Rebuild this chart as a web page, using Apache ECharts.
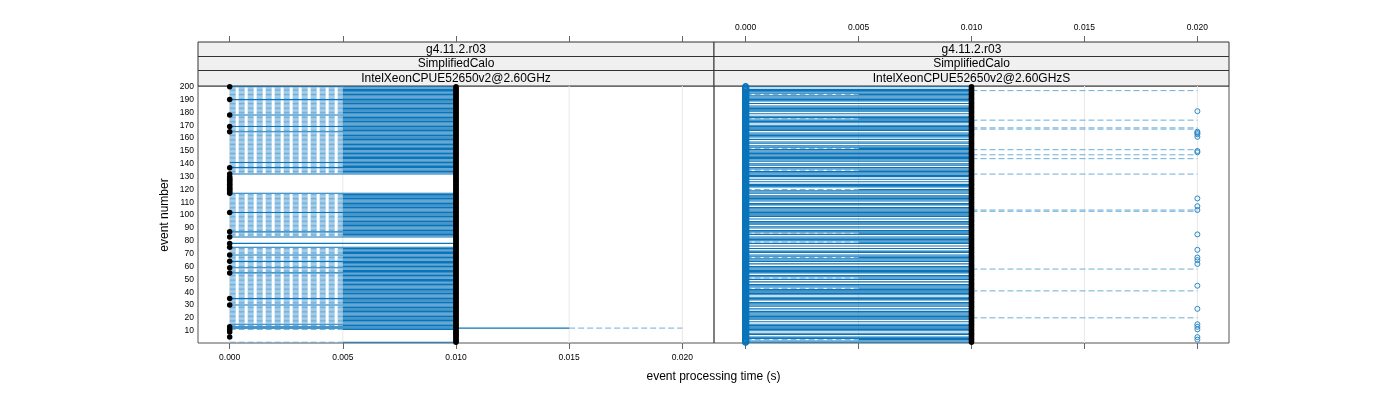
<!DOCTYPE html>
<html><head><meta charset="utf-8">
<script src="https://cdn.jsdelivr.net/npm/echarts@6/dist/echarts.min.js"></script>
<style>html,body{margin:0;padding:0;background:#fff}#c{width:1400px;height:400px}</style>
</head><body><div id="c"></div>
<script>
// ---------- axes / labels ----------
const firstEvent = 1, lastEvent = 200;
const xTicks = [0, 0.005, 0.01, 0.015, 0.02];
const yTicks = [10, 20, 30, 40, 50, 60, 70, 80, 90, 100, 110, 120, 130, 140, 150, 160, 170, 180, 190, 200];
const stripLeft = ['g4.11.2.r03', 'SimplifiedCalo', 'IntelXeonCPUE52650v2@2.60GHz'];
const stripRight = ['g4.11.2.r03', 'SimplifiedCalo', 'IntelXeonCPUE52650v2@2.60GHzS'];
const xTitle = 'event processing time (s)';
const yTitle = 'event number';

// ---------- left panel (…2.60GHz) ----------
// box summaries per event: [lower whisker, lower hinge, upper hinge, upper whisker]
const leftTypicalBox = [0, 0.005, 0.01, 0.01];
const leftFullBox = [0, 0, 0.01, 0.01];
const leftLongBox = [0, 0, 0.015, 0.02];
const leftFullRows = [200, 190, 178, 169, 165, 141, 137, 132, 117, 102, 87, 83, 78, 75, 69, 64, 59, 55, 35, 30, 15, 13];
const leftLongRows = [12];
const leftBlankRows = [131, 130, 129, 128, 127, 126, 125, 124, 123, 122, 121, 120, 119, 118, 82, 81, 80, 79, 77, 76, 10, 9, 8, 7, 6, 5, 4, 3, 2];
const leftMedian = 0.01;
const leftZeroDots = [200, 190, 178, 169, 165, 137, 132, 130, 129, 128, 127, 126, 125, 124, 123, 122, 121, 120, 119, 118, 117, 102, 87, 83, 78, 75, 69, 64, 59, 55, 35, 30, 13, 11, 9, 5];

// ---------- right panel (…2.60GHzS) ----------
const rightTypicalBox = [0, 0, 0.01, 0.01];
const rightDashedBox = [0, 0.005, 0.01, 0.01];
const rightUpperWhisker = 0.02;
const rightDashedRows = [194, 175, 152, 135, 120, 86, 79, 67, 51, 43, 3];
const rightUpperRows = [197, 174, 168, 167, 151, 147, 144, 132, 104, 103, 58, 41, 20];
const rightBlankRows = [199, 188, 186, 180, 178, 171, 165, 160, 158, 155, 141, 138, 129, 127, 125, 121, 116, 110, 107, 98, 96, 92, 89, 84, 77, 75, 73, 70, 63, 61, 54, 49, 47, 37, 33, 28, 26, 18, 16, 9, 6];
const rightMedian = 0.01;
const rightLowOutlier = 0;
const rightHighOutlier = 0.02;
const rightHighOutlierRows = [181, 165, 164, 163, 161, 150, 149, 113, 107, 104, 85, 73, 67, 65, 62, 45, 27, 15, 13, 11, 5, 3];

// ---------- build series data ----------
const events = [];
for (let e = firstEvent; e <= lastEvent; e++) events.push(e);

const leftBoxes = [], rightBoxes = [];
events.forEach(e => {
  if (!leftBlankRows.includes(e)) {
    let b = leftTypicalBox;
    if (leftFullRows.includes(e)) b = leftFullBox;
    if (leftLongRows.includes(e)) b = leftLongBox;
    leftBoxes.push([e, ...b]);
  }
  let r = null;
  if (!rightBlankRows.includes(e)) {
    r = rightDashedRows.includes(e) ? rightDashedBox.slice() : rightTypicalBox.slice();
  }
  if (rightUpperRows.includes(e)) {
    if (!r) r = [0.01, 0.01, 0.01, 0.01];
    r[3] = rightUpperWhisker;
  }
  if (r) rightBoxes.push([e, ...r]);
});
const leftDots = events.map(e => [leftMedian, e]).concat(leftZeroDots.map(e => [0, e]));
const rightDots = events.map(e => [rightMedian, e]);
const rightLowCircles = events.map(e => [rightLowOutlier, e]);
const rightHighCircles = rightHighOutlierRows.map(e => [rightHighOutlier, e]);

// ---------- styling ----------
const BLUE = '#0a74ba';
const BLUE_LIGHT = '#5ea5d6';
const FONT = '"Liberation Sans", Arial, sans-serif';
const X0 = 198, XM = 714, X1 = 1229, TOP = 86, BOT = 343;
const xMin = -0.0014, xMax = 0.0214, yMin = 0.4, yMax = 200.6;

function renderBox(params, api) {
  const y = api.value(0);
  const v = [api.value(1), api.value(2), api.value(3), api.value(4)];
  const p = v.map(x => api.coord([x, y]));
  const kids = [];
  const seg = (a, b, dashed) => ({
    type: 'line',
    shape: { x1: a[0], y1: a[1], x2: b[0], y2: b[1] },
    style: dashed
      ? { stroke: BLUE_LIGHT, lineWidth: 0.9, lineDash: [6, 3] }
      : { stroke: BLUE, lineWidth: 1.1 }
  });
  if (v[1] > v[0]) kids.push(seg(p[0], p[1], true));
  if (v[2] > v[1]) kids.push(seg(p[1], p[2], false));
  if (v[3] > v[2]) kids.push(seg(p[2], p[3], true));
  return { type: 'group', children: kids };
}

function renderGridLine(params, api) {
  const x = api.value(0);
  const a = api.coord([x, yMin]);
  const b = api.coord([x, yMax]);
  return { type: 'line', shape: { x1: a[0], y1: a[1], x2: b[0], y2: b[1] },
    style: { stroke: '#e8e8e8', lineWidth: 1 } };
}

function xAxisDef(grid, pos, showLabels, offset) {
  return {
    type: 'value', gridIndex: grid, position: pos, offset: offset || 0,
    min: xMin, max: xMax,
    axisLine: { show: false },
    splitLine: { show: false },
    axisTick: { show: true, customValues: xTicks, length: 6, lineStyle: { color: '#666' } },
    axisLabel: { show: showLabels, customValues: xTicks, margin: 10, fontSize: 8.5, color: '#000', fontFamily: FONT,
      formatter: v => v.toFixed(3) }
  };
}
function yAxisDef(grid, showLabels) {
  return {
    type: 'value', gridIndex: grid, position: 'left', min: yMin, max: yMax,
    axisLine: { show: false }, splitLine: { show: false },
    axisTick: { show: false, customValues: yTicks },
    axisLabel: { show: showLabels, customValues: yTicks, margin: 4, fontSize: 8.5, color: '#000', fontFamily: FONT }
  };
}

function gridLines(xi, yi) {
  return {
    type: 'custom', xAxisIndex: xi, yAxisIndex: yi, silent: true, z: 1, clip: true,
    data: xTicks.map(t => [t]), renderItem: renderGridLine, encode: { x: 0 }
  };
}

function strips(x, w, labels) {
  const tops = [42, 56.5, 70.5];
  const hs = [14.5, 14, 15.5];
  return labels.map((t, i) => ({
    type: 'rect', shape: { x: x, y: tops[i], width: w, height: hs[i] },
    style: { fill: '#f0f0f0', stroke: '#333', lineWidth: 1 },
    textContent: { style: { text: t, fontSize: 12, fontFamily: FONT, fill: '#000' } },
    textConfig: { position: 'inside' }
  }));
}

const chart = echarts.init(document.getElementById('c'), null, { renderer: 'canvas' });
chart.setOption({
  animation: false,
  backgroundColor: '#fff',
  grid: [
    { left: X0, top: TOP, width: XM - X0, height: BOT - TOP, show: true, borderColor: '#555', borderWidth: 1, backgroundColor: 'transparent' },
    { left: XM, top: TOP, width: X1 - XM, height: BOT - TOP, show: true, borderColor: '#555', borderWidth: 1, backgroundColor: 'transparent' }
  ],
  xAxis: [
    xAxisDef(0, 'bottom', true),
    xAxisDef(0, 'top', false, 44),
    xAxisDef(1, 'bottom', false),
    xAxisDef(1, 'top', true, 44)
  ],
  yAxis: [yAxisDef(0, true), yAxisDef(1, false)],
  series: [
    gridLines(0, 0),
    gridLines(2, 1),
    { type: 'custom', xAxisIndex: 0, yAxisIndex: 0, data: leftBoxes, renderItem: renderBox, encode: { x: [1, 2, 3, 4], y: 0 }, z: 2, clip: true },
    { type: 'custom', xAxisIndex: 2, yAxisIndex: 1, data: rightBoxes, renderItem: renderBox, encode: { x: [1, 2, 3, 4], y: 0 }, z: 2, clip: true },
    { type: 'scatter', xAxisIndex: 2, yAxisIndex: 1, data: rightLowCircles, symbol: 'circle', symbolSize: 6, z: 3,
      itemStyle: { color: 'rgba(255,255,255,0)', borderColor: BLUE, borderWidth: 1.4, opacity: 1 } },
    { type: 'scatter', xAxisIndex: 2, yAxisIndex: 1, data: rightHighCircles, symbol: 'circle', symbolSize: 5, z: 3,
      itemStyle: { color: 'rgba(255,255,255,0)', borderColor: '#2a88c8', borderWidth: 1, opacity: 1 } },
    { type: 'scatter', xAxisIndex: 0, yAxisIndex: 0, data: leftDots, symbol: 'circle', symbolSize: 5.5, z: 4, itemStyle: { color: '#000', opacity: 1 } },
    { type: 'scatter', xAxisIndex: 2, yAxisIndex: 1, data: rightDots, symbol: 'circle', symbolSize: 5.5, z: 4, itemStyle: { color: '#000', opacity: 1 } }
  ],
  graphic: [
    ...strips(X0, XM - X0, stripLeft),
    ...strips(XM, X1 - XM, stripRight),
    { type: 'text', x: (X0 + X1) / 2, y: 377, style: { text: xTitle, fontSize: 12, fontFamily: FONT, fill: '#000', align: 'center', verticalAlign: 'middle' } },
    { type: 'text', x: 165, y: 215, rotation: Math.PI / 2, style: { text: yTitle, fontSize: 12, fontFamily: FONT, fill: '#000', align: 'center', verticalAlign: 'middle' } }
  ]
});
</script></body></html>
